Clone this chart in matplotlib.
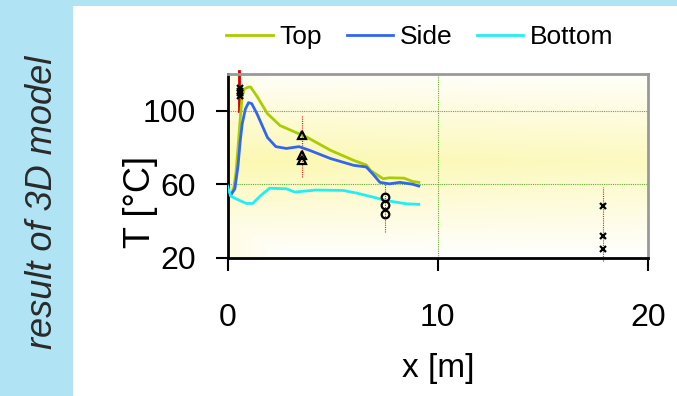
import numpy as np
import matplotlib
matplotlib.use('Agg')
import matplotlib.pyplot as plt
from matplotlib.lines import Line2D
from matplotlib.patches import Rectangle

plt.rcParams['font.family'] = ['Liberation Sans', 'DejaVu Sans']

# simulated surface temperatures along the duct
x_top = [0.15, 0.3, 0.4, 0.5, 0.6, 0.7, 0.8, 1.0, 1.1, 1.4, 1.9, 2.5, 3.1,
         3.8, 4.9, 6.0, 6.6, 6.8, 7.4, 7.7, 8.4, 8.8, 9.1]
y_top = [54, 58, 66, 80, 95, 108, 112, 113, 113, 108, 98.5, 92, 89,
         85.5, 78.5, 73, 70.5, 67.5, 63, 63.5, 63.3, 61.5, 61]

x_side = [0.15, 0.35, 0.5, 0.6, 0.7, 0.85, 1.0, 1.15, 1.4, 1.9, 2.3, 2.8,
          3.4, 3.9, 4.9, 6.0, 6.6, 6.9, 7.25, 7.7, 8.2, 8.8, 9.1]
y_side = [54, 57.5, 70, 83, 93, 101, 104.5, 104, 98.5, 85.5, 80.5, 79.5,
          80.5, 78.5, 74, 70.3, 69.4, 65.7, 61, 60.2, 61, 60, 59]

x_bot = [0.0, 0.15, 0.5, 0.9, 1.2, 1.6, 2.0, 2.8, 3.2, 4.2, 5.5, 6.2, 6.9,
         7.6, 8.5, 9.1]
y_bot = [59, 53.5, 51.5, 49.5, 49.5, 54, 57.8, 57.5, 55.7, 56.8, 56.6, 55,
         53, 51, 49.3, 49]

# measured values at four stations, with min/max range
meas_x = [0.6, 3.55, 7.5, 17.85]
meas_y = [[112.5, 111, 109.5, 108], [87, 76, 73], [53, 48.5, 44],
          [48, 32, 24.5]]
meas_marker = ['x', '^', 'o', 'x']
meas_size = [4.5, 6, 5.5, 4.5]
range_lo = [100, 64, 34, 18]
range_hi = [122, 97.5, 62, 58.5]

series_labels = ['Top', 'Side', 'Bottom']
series_colors = ['#AACC00', '#3366EE', '#22EEF5']

W, H = 677, 396
fig = plt.figure(figsize=(W / 100, H / 100), dpi=100, facecolor='#B0E3F3')
fig.patches.append(Rectangle((73 / W, 0), 1, (H - 6) / H,
                             transform=fig.transFigure, facecolor='white',
                             edgecolor='none', zorder=-1))

left, right, bottom = 227.5, 648, 257.5
ylo, yhi = 20, 120
top = bottom - (yhi - ylo) * 1.8325
ax = fig.add_axes([left / W, (H - bottom) / H, (right - left) / W,
                   (bottom - top) / H])
ax.set_zorder(1)
ax.set_xlim(0, 20)
ax.set_ylim(ylo, yhi)

# pale yellow shading behind the plot, strongest in the middle band
gy = np.linspace(yhi, ylo, 200)[:, None]
gx = np.linspace(0, 20, 200)[None, :]
w = np.clip(1 - np.abs(gy - 72) / 52, 0, 1) * (1 - 0.2 * gx / 20)
w = np.maximum(w, 0.35 * np.clip(1 - gx / 3, 0, 1))
yellow = np.array([252, 248, 178]) / 255
img = 1 - w[..., None] * (1 - yellow)
ax.imshow(img, extent=[0, 20, ylo, yhi], aspect='auto', zorder=0)

for v in [60, 100]:
    ax.axhline(v, color='#66AA33', lw=0.8, ls=(0, (1, 1)), zorder=1)
ax.axvline(10, color='#66AA33', lw=0.8, ls=(0, (1, 1)), zorder=1)

for xs, ys, c in zip([x_top, x_side, x_bot], [y_top, y_side, y_bot],
                     series_colors):
    ax.plot(xs, ys, color=c, lw=2, zorder=3)

for i, (mx, ys, mk) in enumerate(zip(meas_x, meas_y, meas_marker)):
    if i == 0:
        ax.plot([mx - 0.05, mx - 0.05], [range_lo[i], range_hi[i]],
                color='#CC0000', lw=2, zorder=2, clip_on=False)
    else:
        ax.plot([mx, mx], [range_lo[i], range_hi[i]], color='#DD2222',
                lw=0.8, ls=(0, (1, 1)), zorder=2, clip_on=False)
    ax.plot([mx] * len(ys), ys, ls='none', marker=mk, ms=meas_size[i],
            mfc='none', mec='black', mew=1.6, zorder=4)

for s in ['left', 'bottom']:
    ax.spines[s].set_color('black')
    ax.spines[s].set_linewidth(2)
for s in ['top', 'right']:
    ax.spines[s].set_color('#999999')
    ax.spines[s].set_linewidth(2)
ax.spines['top'].set_zorder(5)

ax.set_xticks([0, 10, 20])
ax.set_yticks([20, 60, 100])
ax.tick_params(axis='both', direction='out', length=9, width=1.5,
               labelsize=23)
ax.tick_params(axis='x', pad=24)
ax.tick_params(axis='y', pad=14)

ax.set_xlabel('x [m]', fontsize=24, labelpad=14)
fig.text(140 / W, 1 - 202 / H, 'T [°C]', rotation=90, fontsize=26,
         ha='center', va='center')
fig.text(43 / W, 1 - 202 / H, 'result of 3D model', rotation=90,
         fontsize=26, style='italic', color='#2A2A2A',
         ha='center', va='center')

handles = [Line2D([], [], color=c, lw=2) for c in series_colors]
fig.legend(handles, series_labels, loc='center', ncol=3,
           bbox_to_anchor=(420 / W, 1 - 37 / H), frameon=False,
           fontsize=19, handlelength=1.75, handletextpad=0.25,
           columnspacing=0.95)

fig.savefig('out.png', dpi=100, facecolor=fig.get_facecolor())
